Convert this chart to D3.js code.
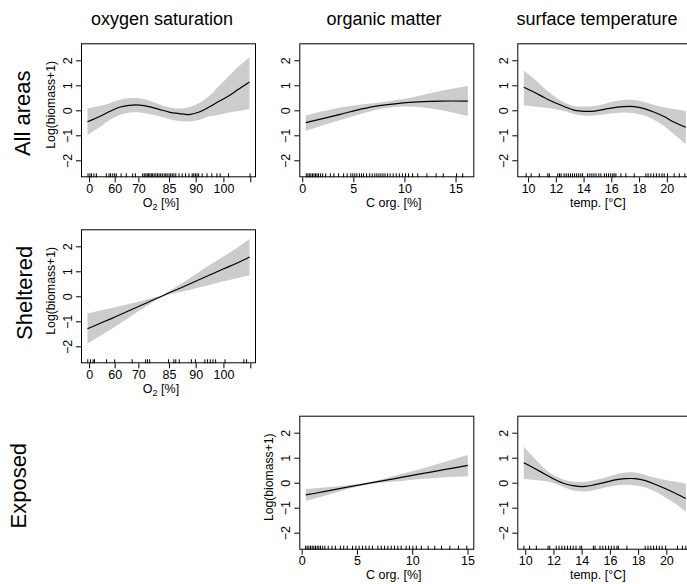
<!DOCTYPE html>
<html>
<head>
<meta charset="utf-8">
<script src="https://cdn.jsdelivr.net/npm/d3@7"></script>
<style>
  html, body { margin: 0; padding: 0; background: #fff; }
  svg { display: block; font-family: "Liberation Sans", Arial, Helvetica, sans-serif; }
</style>
</head>
<body>
<svg id="chart" width="687" height="584"></svg>
<script>
// ---------------- DATA ----------------
const columnTitles = ["oxygen saturation", "organic matter", "surface temperature"];
const rowLabels = ["All areas", "Sheltered", "Exposed"];
const yTicks = [-2, -1, 0, 1, 2];
const yLabel = "Log(biomass+1)";

// oxygen axis (transformed units) ticks and labels
const oxTicks = [0, 0.95, 1.83, 2.97, 3.96, 4.99, 5.99];
const oxTickLabels = ["0", "60", "70", "85", "90", "100", ""];
const orgTicks = [0, 5, 10, 15];
const tempTicks = [10, 12, 14, 16, 18, 20];

// All areas – oxygen
const oxAllX   = [-0.06, 0.39, 0.76, 1.13, 1.50, 1.87, 2.23, 2.60, 2.97, 3.34, 3.71, 4.07, 4.44, 4.81, 5.18, 5.55, 5.96];
const oxAllFit = [-0.46, -0.25, -0.05, 0.12, 0.20, 0.21, 0.15, 0.04, -0.07, -0.13, -0.17, -0.08, 0.12, 0.35, 0.57, 0.84, 1.13];
const oxAllLo  = [-0.99, -0.68, -0.39, -0.19, -0.09, -0.09, -0.15, -0.23, -0.35, -0.43, -0.45, -0.39, -0.25, -0.19, -0.09, -0.03, 0.05];
const oxAllHi  = [0.08, 0.17, 0.28, 0.41, 0.49, 0.48, 0.39, 0.24, 0.12, 0.07, 0.12, 0.28, 0.55, 0.95, 1.35, 1.75, 2.12];
const oxAllRug = [-0.04, 0.03, 0.09, 0.18, 0.27, 0.64, 0.74, 0.8, 0.88, 0.95, 1.01, 1.19, 1.38, 1.62, 1.72,
  1.99, 2.05, 2.11, 2.16, 2.21, 2.26, 2.31, 2.36, 2.42, 2.48, 2.54, 2.6, 2.66, 2.72, 2.79, 2.85, 2.9, 2.97,
  3.03, 3.09, 3.15, 3.22, 3.34, 3.46, 3.58, 3.71, 3.83, 3.89, 3.95, 4.01, 4.07, 4.2, 4.38, 4.56, 4.75, 4.87, 5.18, 5.98];

// All areas – organic matter
const orgAllX   = [0.35, 2.1, 3.73, 5.35, 6.97, 8.6, 10.2, 11.8, 13.5, 16.2];
const orgAllFit = [-0.49, -0.32, -0.16, 0.01, 0.15, 0.24, 0.31, 0.35, 0.37, 0.37];
const orgAllLo  = [-0.83, -0.59, -0.39, -0.19, -0.01, 0.11, 0.15, 0.11, 0.01, -0.23];
const orgAllHi  = [-0.21, -0.03, 0.11, 0.21, 0.28, 0.37, 0.47, 0.61, 0.77, 0.97];
const orgAllRug = [0.4, 0.55, 0.7, 0.85, 1.0, 1.15, 1.3, 1.45, 1.6, 1.8, 2.0, 2.3, 2.75, 3.1, 3.56, 4.05, 4.4,
  4.75, 4.95, 5.15, 5.35, 5.6, 5.8, 6.0, 6.3, 6.6, 6.85, 7.1, 7.3, 7.5, 7.7, 7.9, 8.1, 8.35, 8.6, 8.9, 9.2,
  9.5, 9.8, 10.1, 10.4, 10.8, 11.3, 12.2, 13.1, 13.8, 15.1, 15.7];

// All areas – temperature
const tempAllX   = [9.69, 10.45, 11.17, 11.9, 12.6, 13.3, 14.05, 14.8, 15.5, 16.2, 16.9, 17.65, 18.37, 19.1, 19.8, 20.5, 21.37];
const tempAllFit = [0.92, 0.72, 0.51, 0.31, 0.15, 0.01, -0.04, -0.03, 0.04, 0.11, 0.15, 0.15, 0.07, -0.08, -0.25, -0.47, -0.68];
const tempAllLo  = [0.19, 0.15, 0.11, 0.05, -0.03, -0.15, -0.21, -0.21, -0.16, -0.12, -0.09, -0.12, -0.21, -0.39, -0.63, -0.95, -1.35];
const tempAllHi  = [1.59, 1.25, 0.88, 0.55, 0.31, 0.17, 0.15, 0.17, 0.25, 0.36, 0.41, 0.41, 0.33, 0.21, 0.12, 0.05, -0.03];
const tempAllRug = [9.86, 10.22, 10.81, 11.42, 11.53, 12.14, 12.26, 12.38, 12.6, 12.75, 12.9, 13.05, 13.2, 13.35,
  13.5, 13.65, 13.8, 13.93, 14.29, 14.45, 14.6, 14.75, 14.9, 15.1, 15.25, 15.5, 15.65, 15.8, 15.95, 16.1, 16.2,
  16.33, 16.69, 17.05, 17.65, 18.49, 18.65, 18.85, 19.05, 19.25, 19.45, 19.65, 19.81, 20.05, 20.53, 20.9, 21.3];

// Sheltered – oxygen
const oxShX   = [-0.06, 0.5, 1.0, 1.5, 2.0, 2.5, 2.7, 3.0, 3.5, 4.0, 4.5, 5.0, 5.5, 5.96];
const oxShFit = [-1.30, -1.04, -0.81, -0.57, -0.33, -0.09, 0.0, 0.15, 0.38, 0.62, 0.86, 1.10, 1.33, 1.57];
const oxShLo  = [-1.89, -1.53, -1.19, -0.84, -0.49, -0.15, -0.03, 0.08, 0.20, 0.33, 0.46, 0.60, 0.72, 0.84];
const oxShHi  = [-0.69, -0.55, -0.43, -0.30, -0.17, -0.03, 0.03, 0.22, 0.56, 0.91, 1.26, 1.60, 1.94, 2.29];
const oxShRug = [-0.05, 0.05, 0.15, 0.2, 0.65, 0.95, 1.6, 2.1, 2.17, 2.25, 2.95, 3.15, 3.22, 3.35, 3.8, 3.95,
  4.3, 4.4, 4.5, 4.6, 4.7, 5.05, 5.75, 5.85];

// Exposed – organic matter
const orgExX   = [0.37, 2, 4, 5.5, 7, 9, 11, 13, 15.03];
const orgExFit = [-0.49, -0.36, -0.19, -0.07, 0.05, 0.21, 0.37, 0.53, 0.69];
const orgExLo  = [-0.73, -0.53, -0.27, -0.11, -0.01, 0.07, 0.16, 0.22, 0.26];
const orgExHi  = [-0.25, -0.19, -0.11, -0.03, 0.11, 0.35, 0.58, 0.84, 1.11];
const orgExRug = [0.35, 0.5, 0.65, 0.8, 0.95, 1.1, 1.25, 1.4, 1.55, 1.7, 1.9, 2.1, 2.4, 2.74, 3.05, 3.5, 3.8,
  4.12, 4.6, 4.9, 5.2, 5.5, 5.8, 6.1, 6.4, 6.9, 7.2, 7.5, 7.8, 8.1, 8.4, 8.7, 9.0, 9.45, 9.75, 10.06, 10.37,
  10.82, 11.44, 12.04, 12.65, 13.4, 14.18, 14.94];

// Exposed – temperature
const tempExX   = [9.9, 10.67, 11.38, 12.1, 12.8, 13.5, 14.24, 14.95, 15.67, 16.38, 17.1, 17.8, 18.52, 19.24, 19.95, 20.67, 21.38];
const tempExFit = [0.80, 0.57, 0.35, 0.13, -0.04, -0.13, -0.15, -0.08, 0.01, 0.11, 0.16, 0.16, 0.08, -0.07, -0.24, -0.43, -0.63];
const tempExLo  = [0.16, 0.11, 0.07, -0.03, -0.19, -0.32, -0.35, -0.29, -0.19, -0.11, -0.08, -0.11, -0.19, -0.36, -0.59, -0.85, -1.16];
const tempExHi  = [1.44, 0.97, 0.57, 0.28, 0.11, 0.04, 0.04, 0.11, 0.21, 0.33, 0.41, 0.41, 0.31, 0.20, 0.11, 0.04, -0.03];
const tempExRug = [9.91, 10.31, 10.79, 11.62, 11.74, 12.2, 12.4, 12.6, 12.8, 13.0, 13.2, 13.4, 13.6, 13.88, 14.0,
  14.83, 14.95, 15.3, 15.5, 15.7, 15.9, 16.1, 16.3, 16.5, 16.6, 17.21, 18.5, 18.7, 18.9, 19.1, 19.3, 19.5, 19.7,
  19.95, 20.79, 21.14, 21.38];

// ---------------- LAYOUT ----------------
const W = 687, H = 584;
const colLeft = [81, 299.3, 517.3];
const rowTop = [43.3, 229.3, 415.7];
const panelW = 175, panelH = 134;
const yDomain = [-2.68, 2.68];
const titleCx = [162, 384, 597];
const xLabelOffset = [80, 94.5, 80.5];
const rowLabelX = [29.5, 32, 26];
const rowLabelDy = [3, -3.5, 3];
const FONT = '"Liberation Sans", Arial, Helvetica, sans-serif';
const SHADE = "#cccccc";
const TICK_FS = 12.5;

const svg = d3.select("#chart");
svg.append("rect").attr("width", W).attr("height", H).attr("fill", "#fff");

const panels = [
  { row: 0, col: 0, kind: "ox",   x: oxAllX,   fit: oxAllFit,   lo: oxAllLo,   hi: oxAllHi,   rug: oxAllRug,   ylab: true },
  { row: 0, col: 1, kind: "org",  x: orgAllX,  fit: orgAllFit,  lo: orgAllLo,  hi: orgAllHi,  rug: orgAllRug,  ylab: false },
  { row: 0, col: 2, kind: "temp", x: tempAllX, fit: tempAllFit, lo: tempAllLo, hi: tempAllHi, rug: tempAllRug, ylab: false },
  { row: 1, col: 0, kind: "ox",   x: oxShX,    fit: oxShFit,    lo: oxShLo,    hi: oxShHi,    rug: oxShRug,    ylab: true },
  { row: 2, col: 1, kind: "org",  x: orgExX,   fit: orgExFit,   lo: orgExLo,   hi: orgExHi,   rug: orgExRug,   ylab: true },
  { row: 2, col: 2, kind: "temp", x: tempExX,  fit: tempExFit,  lo: tempExLo,  hi: tempExHi,  rug: tempExRug,  ylab: false }
];

const axisSpec = {
  ox:   { ticks: oxTicks,   fmt: (d, i) => oxTickLabels[i] },
  org:  { ticks: orgTicks,  fmt: d => d },
  temp: { ticks: tempTicks, fmt: d => d }
};

function drawXLabel(g, kind, cx, y) {
  const t = g.append("text").attr("x", cx).attr("y", y).attr("text-anchor", "middle")
    .style("font-size", "12.5px").style("font-family", FONT).attr("fill", "#000");
  if (kind === "ox") {
    t.append("tspan").text("O");
    t.append("tspan").style("font-size", "9px").attr("dy", 3).text("2");
    t.append("tspan").attr("dy", -3).text(" [%]");
  } else if (kind === "org") {
    t.text("C org. [%]");
  } else {
    t.text("temp. [°C]");
  }
}

panels.forEach(p => {
  const left = colLeft[p.col], top = rowTop[p.row];
  const g = svg.append("g").attr("transform", `translate(${left},${top})`);
  const ext = d3.extent(p.x);
  const pad = (ext[1] - ext[0]) * 0.04;
  const x = d3.scaleLinear().domain([ext[0] - pad, ext[1] + pad]).range([0, panelW]);
  const y = d3.scaleLinear().domain(yDomain).range([panelH, 0]);
  const pts = p.x.map((v, i) => ({ x: v, fit: p.fit[i], lo: p.lo[i], hi: p.hi[i] }));

  // confidence band
  g.append("path").datum(pts)
    .attr("d", d3.area().curve(d3.curveCatmullRom).x(d => x(d.x)).y0(d => y(d.lo)).y1(d => y(d.hi)))
    .attr("fill", SHADE).attr("stroke", "none");
  // fitted line
  g.append("path").datum(pts)
    .attr("d", d3.line().curve(d3.curveCatmullRom).x(d => x(d.x)).y(d => y(d.fit)))
    .attr("fill", "none").attr("stroke", "#000").attr("stroke-width", 1.2);

  // rug
  g.append("g").selectAll("line").data(p.rug).join("line")
    .attr("x1", d => x(d)).attr("x2", d => x(d))
    .attr("y1", panelH).attr("y2", panelH - 4)
    .attr("stroke", "#000").attr("stroke-width", 1);

  // box
  g.append("rect").attr("x", 0.5).attr("y", 0.5).attr("width", panelW - 1).attr("height", panelH - 1)
    .attr("fill", "none").attr("stroke", "#000").attr("stroke-width", 1);

  // x axis
  const spec = axisSpec[p.kind];
  const xa = g.append("g").attr("transform", `translate(0,${panelH})`)
    .call(d3.axisBottom(x).tickValues(spec.ticks).tickFormat(spec.fmt).tickSize(5).tickPadding(1.5).tickSizeOuter(0));
  xa.attr("font-size", null).attr("font-family", null);
  xa.select(".domain").remove();
  xa.selectAll("text").style("font-size", TICK_FS + "px").style("font-family", FONT).attr("fill", "#000");
  xa.selectAll("line").attr("stroke", "#000");

  // y axis
  const ya = g.append("g")
    .call(d3.axisLeft(y).tickValues(yTicks).tickFormat(d3.format("d")).tickSize(5).tickSizeOuter(0));
  ya.attr("font-size", null).attr("font-family", null);
  ya.select(".domain").remove();
  ya.selectAll("line").attr("stroke", "#000");
  ya.selectAll("text")
    .attr("x", null).attr("dy", null)
    .attr("transform", "translate(-9,0) rotate(-90)")
    .attr("text-anchor", "middle")
    .style("font-size", TICK_FS + "px").style("font-family", FONT).attr("fill", "#000");

  // y label
  if (p.ylab) {
    g.append("text")
      .attr("transform", `translate(-26.5,${panelH / 2 - 5.5}) rotate(-90)`)
      .attr("text-anchor", "middle").style("font-size", "12.2px").style("font-family", FONT).attr("fill", "#000")
      .text(yLabel);
  }

  // x label
  drawXLabel(g, p.kind, xLabelOffset[p.col], panelH + 29.5);
});

// column titles
columnTitles.forEach((t, i) => {
  svg.append("text").attr("x", titleCx[i]).attr("y", 25).attr("text-anchor", "middle")
    .style("font-size", "18px").style("font-family", FONT).attr("fill", "#000").text(t);
});

// row labels
rowLabels.forEach((t, i) => {
  const cy = rowTop[i] + panelH / 2 + rowLabelDy[i];
  svg.append("text")
    .attr("transform", `translate(${rowLabelX[i]},${cy}) rotate(-90)`)
    .attr("text-anchor", "middle").style("font-size", "22px").style("font-family", FONT).attr("fill", "#000")
    .text(t);
});
</script>
</body>
</html>
